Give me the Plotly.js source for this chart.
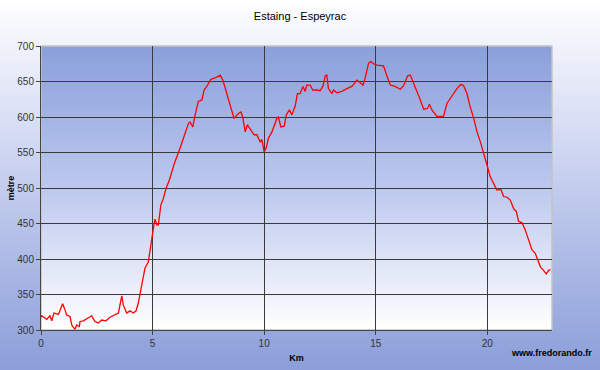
<!DOCTYPE html>
<html>
<head>
<meta charset="utf-8">
<script src="https://cdn.plot.ly/plotly-3.0.1.min.js"></script>
<style>
html,body{margin:0;padding:0;}
#chart{width:600px;height:370px;background:linear-gradient(to bottom,#ffffff 0%,#c4cdee 50%,#8b9ed9 100%);}
</style>
</head>
<body>
<div id="chart"></div>
<script>
const chartTitle = "Estaing - Espeyrac";
const xTitle = "Km";
const yTitle = "mètre";
const watermark = "www.fredorando.fr";

const distanceKm = [0.00,0.03,0.26,0.40,0.48,0.58,0.78,0.97,1.08,1.15,1.30,1.38,1.52,1.60,1.72,1.75,1.90,2.12,2.27,2.42,2.57,2.72,2.91,3.09,3.32,3.47,3.62,3.69,3.84,3.99,4.14,4.26,4.36,4.44,4.52,4.66,4.81,4.92,5.01,5.07,5.11,5.19,5.26,5.37,5.48,5.61,5.75,5.98,6.23,6.38,6.61,6.68,6.80,6.91,7.05,7.21,7.31,7.43,7.61,7.80,8.03,8.15,8.33,8.48,8.65,8.85,8.96,9.04,9.15,9.25,9.40,9.55,9.67,9.82,9.90,10.00,10.09,10.19,10.35,10.57,10.64,10.75,10.90,10.99,11.13,11.24,11.39,11.49,11.61,11.74,11.84,11.91,12.06,12.18,12.39,12.51,12.63,12.74,12.81,12.88,13.04,13.11,13.26,13.48,13.71,13.93,14.16,14.30,14.43,14.53,14.68,14.78,14.90,15.05,15.35,15.50,15.65,15.87,16.10,16.25,16.43,16.55,16.70,16.87,17.00,17.15,17.32,17.41,17.52,17.74,18.04,18.19,18.42,18.64,18.82,18.94,19.09,19.21,19.39,19.54,19.69,19.83,20.01,20.13,20.21,20.36,20.43,20.61,20.73,20.88,21.03,21.18,21.30,21.40,21.56,21.70,21.85,22.00,22.15,22.26,22.38,22.52,22.64,22.75,22.83];
const elevationM = [318,320,315,320,313,324,322,337,328,321,319,307,301,307,305,312,313,317,320,312,310,314,313,318,321,324,348,335,324,327,324,327,338,352,368,387,396,422,436,450,456,448,448,476,485,500,511,535,556,570,591,593,586,603,622,624,638,643,653,655,659,652,633,619,598,605,607,600,579,589,582,575,575,565,568,551,556,570,579,598,600,586,587,603,610,603,615,633,633,643,636,645,645,638,638,637,643,658,659,640,633,638,634,636,640,643,652,648,645,655,676,678,675,673,672,658,645,643,639,644,658,659,648,633,624,611,612,618,610,601,601,619,630,640,646,644,633,617,598,579,565,551,530,516,511,503,497,498,488,487,483,471,467,453,451,441,427,413,408,399,389,384,379,384,385];

const xRange = [0, 22.9];
const yRange = [300, 700];
const xTicks = [0, 5, 10, 15, 20];
const yTicks = [300, 350, 400, 450, 500, 550, 600, 650, 700];

const gradSvg = '<svg xmlns="http://www.w3.org/2000/svg" width="100" height="100" preserveAspectRatio="none"><defs><linearGradient id="g" x1="0" y1="0" x2="0" y2="1"><stop offset="0" stop-color="#8a9fdb"/><stop offset="0.5" stop-color="#bcc8ee"/><stop offset="1" stop-color="#ffffff"/></linearGradient></defs><rect width="100" height="100" fill="url(#g)"/></svg>';
const gradUri = 'data:image/svg+xml;base64,' + btoa(gradSvg);

const trace = {
  x: distanceKm,
  y: elevationM,
  type: 'scatter',
  mode: 'lines',
  line: {color: '#ff0000', width: 1.3},
  hoverinfo: 'x+y'
};

const tickFont = {family: 'Liberation Sans, Arial, sans-serif', size: 10, color: '#333333'};

const layout = {
  width: 600, height: 370,
  margin: {l: 41, r: 48, t: 46, b: 40},
  paper_bgcolor: 'rgba(0,0,0,0)',
  plot_bgcolor: 'rgba(0,0,0,0)',
  showlegend: false,
  title: {text: chartTitle, x: 0.5, xanchor: 'center', y: 0.957, yanchor: 'middle',
          font: {family: 'Liberation Sans, Arial, sans-serif', size: 11, color: '#000000'}},
  xaxis: {
    range: xRange, tickvals: xTicks, ticktext: xTicks.map(String),
    showgrid: true, gridcolor: '#3a3a3a', gridwidth: 1,
    showline: true, linecolor: '#444444', linewidth: 1,
    ticks: 'outside', ticklen: 4, tickcolor: '#444444',
    tickfont: tickFont, zeroline: false, automargin: false,
    title: {text: '<b>' + xTitle + '</b>', standoff: 6,
            font: {family: 'Liberation Sans, Arial, sans-serif', size: 9, color: '#000000'}}
  },
  yaxis: {
    range: yRange, tickvals: yTicks, ticktext: yTicks.map(String),
    showgrid: true, gridcolor: '#3a3a3a', gridwidth: 1,
    showline: true, linecolor: '#444444', linewidth: 1,
    ticks: 'outside', ticklen: 4, tickcolor: '#444444',
    tickfont: tickFont, zeroline: false, automargin: false,
    title: {text: '<b>' + yTitle + '</b>', standoff: 1,
            font: {family: 'Liberation Sans, Arial, sans-serif', size: 9, color: '#000000'}}
  },
  images: [{
    source: gradUri, xref: 'paper', yref: 'paper', x: 0, y: 1,
    sizex: 1, sizey: 1, sizing: 'stretch', xanchor: 'left', yanchor: 'top', layer: 'below'
  }],
  shapes: [{
    type: 'rect', xref: 'paper', yref: 'paper', x0: 0, x1: 1, y0: 0, y1: 1,
    line: {color: '#c4c4c4', width: 1.5}, layer: 'below'
  }],
  annotations: [{
    text: '<b>' + watermark + '</b>', xref: 'paper', yref: 'paper',
    x: 1.082, y: -0.08, xanchor: 'right', yanchor: 'middle', showarrow: false,
    font: {family: 'Liberation Sans, Arial, sans-serif', size: 9, color: '#000000'}
  }]
};

Plotly.newPlot('chart', [trace], layout, {displayModeBar: false, staticPlot: false});
</script>
</body>
</html>
